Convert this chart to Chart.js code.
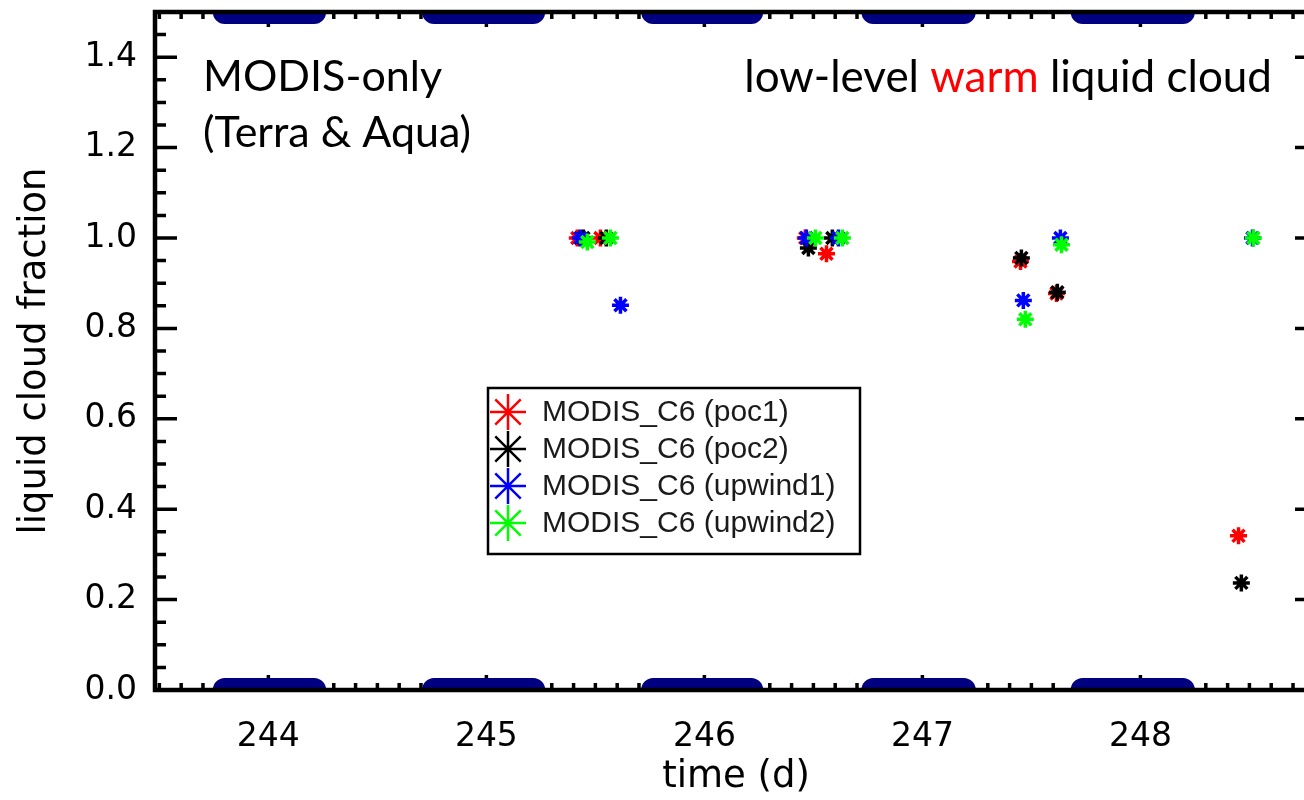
<!DOCTYPE html>
<html>
<head>
<meta charset="utf-8">
<script src="https://cdn.jsdelivr.net/npm/chart.js@4.4.1/dist/chart.umd.min.js"></script>
<style>
  html, body { margin: 0; padding: 0; background: #fff; overflow: hidden; }
  #wrap { width: 1330px; height: 800px; }
</style>
</head>
<body>
<div id="wrap"><canvas id="cloudChart" width="1330" height="800"></canvas></div>
<script>
// overpass time (day of year) and liquid cloud fraction for each region
const poc1Time = [245.417, 245.523, 246.463, 246.560, 247.450, 247.615, 248.450];
const poc1Frac = [1.0, 1.0, 1.0, 0.965, 0.948, 0.877, 0.341];
const poc2Time = [245.445, 245.550, 246.477, 246.587, 247.454, 247.619, 248.463];
const poc2Frac = [1.0, 1.0, 0.978, 1.0, 0.956, 0.880, 0.237];
const upwind1Time = [245.431, 245.615, 246.468, 246.615, 247.463, 247.633, 248.514];
const upwind1Frac = [1.0, 0.851, 1.0, 1.0, 0.862, 1.0, 1.0];
const upwind2Time = [245.463, 245.569, 246.509, 246.633, 247.472, 247.638, 248.518];
const upwind2Frac = [0.991, 1.0, 1.0, 1.0, 0.820, 0.985, 1.0];

const seriesNames = ['MODIS_C6 (poc1)', 'MODIS_C6 (poc2)', 'MODIS_C6 (upwind1)', 'MODIS_C6 (upwind2)'];
const seriesColors = ['#ff0000', '#000000', '#0000ff', '#00ff00'];

// night-time periods, drawn as bars along the top and bottom axes
const nightStart = [243.80, 244.76, 245.765, 246.775, 247.735];
const nightEnd = [244.21, 245.215, 246.215, 247.19, 248.195];

const xTickValues = [244, 245, 246, 247, 248];
const yTickValues = [0, 0.2, 0.4, 0.6, 0.8, 1.0, 1.2, 1.4];
const xMin = 243.48, xMax = 248.81;
const yMin = 0, yMax = 1.5;

function toPoints(times, fracs) {
    return times.map((t, i) => ({ x: t, y: fracs[i] }));
}

function nightSegments(level) {
    const pts = [];
    nightStart.forEach((s, i) => {
        pts.push({ x: s, y: level }, { x: nightEnd[i], y: level }, { x: nightEnd[i], y: null });
    });
    return pts;
}

// box with inward ticks on all four sides
const frameTicks = {
    id: 'frameTicks',
    beforeDatasetsDraw(chart) {
        const { ctx, chartArea: a, scales: { x, y } } = chart;
        ctx.save();
        ctx.strokeStyle = '#000';
        ctx.lineWidth = 3.5;
        ctx.beginPath();
        for (let i = Math.ceil(xMin * 10); i <= Math.floor(xMax * 10); i++) {
            const px = x.getPixelForValue(i / 10);
            const len = i % 10 === 0 ? 15 : 7;
            ctx.moveTo(px, a.bottom); ctx.lineTo(px, a.bottom - len);
            ctx.moveTo(px, a.top); ctx.lineTo(px, a.top + len);
        }
        for (let i = 0; i <= Math.floor(yMax * 20); i++) {
            const py = y.getPixelForValue(i / 20);
            const len = i % 4 === 0 ? 22 : 11;
            ctx.moveTo(a.left, py); ctx.lineTo(a.left + len, py);
            ctx.moveTo(a.right, py); ctx.lineTo(a.right - len, py);
        }
        ctx.stroke();
        ctx.restore();
    },
    afterDatasetsDraw(chart) {
        const { ctx, chartArea: a } = chart;
        ctx.save();
        ctx.strokeStyle = '#000';
        ctx.lineWidth = 4.5;
        ctx.strokeRect(a.left, a.top, a.right - a.left, a.bottom - a.top);
        ctx.restore();
    },
    afterDraw(chart) {
        const ctx = chart.ctx;
        ctx.save();

        // labels in the corners
        ctx.font = '43px Lato';
        ctx.textAlign = 'left';
        ctx.textBaseline = 'alphabetic';
        ctx.fillStyle = '#000';
        ctx.fillText('MODIS-only', 203, 91);
        ctx.fillText('(Terra & Aqua)', 203, 147);

        ctx.font = '44px Lato';
        const parts = [['low-level ', '#000'], ['warm', '#ff0000'], [' liquid cloud', '#000']];
        const total = parts.reduce((w, p) => w + ctx.measureText(p[0]).width, 0);
        let tx = 1272 - total;
        parts.forEach(([txt, col]) => {
            ctx.fillStyle = col;
            ctx.fillText(txt, tx, 92);
            tx += ctx.measureText(txt).width;
        });

        // legend
        ctx.lineWidth = 2.5;
        ctx.strokeStyle = '#000';
        ctx.fillStyle = '#fff';
        ctx.fillRect(488, 388, 372, 166);
        ctx.strokeRect(488, 388, 372, 166);
        ctx.font = '30px "Liberation Sans"';
        ctx.textBaseline = 'middle';
        seriesNames.forEach((name, i) => {
            const ly = 412 + i * 37;
            ctx.strokeStyle = seriesColors[i];
            ctx.fillStyle = seriesColors[i];
            Chart.helpers.drawPoint(ctx, { pointStyle: 'star', radius: 18, borderWidth: 2.5, rotation: 0 }, 508, ly);
            ctx.fillStyle = '#1a1a1a';
            ctx.fillText(name, 542, ly + 1);
        });
        ctx.restore();
    }
};

const times = [poc1Time, poc2Time, upwind1Time, upwind2Time];
const fracs = [poc1Frac, poc2Frac, upwind1Frac, upwind2Frac];

const datasets = seriesNames.map((name, i) => ({
    label: name,
    data: toPoints(times[i], fracs[i]),
    pointStyle: 'star',
    pointRadius: 8.5,
    pointBorderWidth: 3.5,
    pointBorderColor: seriesColors[i],
    pointBackgroundColor: seriesColors[i],
    order: 4 - i
}));

[yMin, yMax].forEach(level => {
    datasets.push({
        type: 'line',
        label: 'night',
        data: nightSegments(level),
        borderColor: '#000080',
        borderWidth: 24,
        borderCapStyle: 'round',
        pointRadius: 0,
        spanGaps: false,
        clip: 0,
        order: 10
    });
});

// no extra room for the end tick labels, the frame sets the plot size
function fixPadding(s) {
    s.paddingTop = 0;
    s.paddingBottom = 0;
    s.paddingLeft = 0;
    s.paddingRight = 0;
}

new Chart(document.getElementById('cloudChart'), {
    type: 'scatter',
    data: { datasets: datasets },
    options: {
        responsive: false,
        animation: false,
        events: [],
        layout: { padding: { top: 7, right: 13, left: 0, bottom: 0 } },
        plugins: {
            legend: { display: false },
            tooltip: { enabled: false }
        },
        scales: {
            x: {
                type: 'linear',
                min: xMin,
                max: xMax,
                grid: { display: false, drawTicks: false },
                border: { display: false },
                afterBuildTicks: s => { s.ticks = xTickValues.map(v => ({ value: v })); },
                afterFit: s => { s.height = 110; fixPadding(s); },
                ticks: {
                    color: '#000',
                    font: { family: 'DejaVu Sans', size: 33 },
                    padding: 28,
                    maxRotation: 0,
                    autoSkip: false,
                    callback: v => String(v)
                },
                title: {
                    display: true,
                    text: 'time (d)',
                    color: '#000',
                    font: { family: 'DejaVu Sans', size: 37, lineHeight: 1.2 },
                    padding: { top: 0, bottom: 0 }
                }
            },
            y: {
                type: 'linear',
                min: yMin,
                max: yMax,
                grid: { display: false, drawTicks: false },
                border: { display: false },
                afterBuildTicks: s => { s.ticks = yTickValues.map(v => ({ value: v })); },
                afterFit: s => { s.width = 155; fixPadding(s); },
                ticks: {
                    color: '#000',
                    font: { family: 'DejaVu Sans', size: 33 },
                    padding: 18,
                    autoSkip: false,
                    callback: v => v.toFixed(1)
                },
                title: {
                    display: true,
                    text: 'liquid cloud fraction',
                    color: '#000',
                    font: { family: 'DejaVu Sans', size: 37, lineHeight: 1.2 },
                    padding: { top: 13, bottom: 0 }
                }
            }
        }
    },
    plugins: [frameTicks]
});
</script>
</body>
</html>
